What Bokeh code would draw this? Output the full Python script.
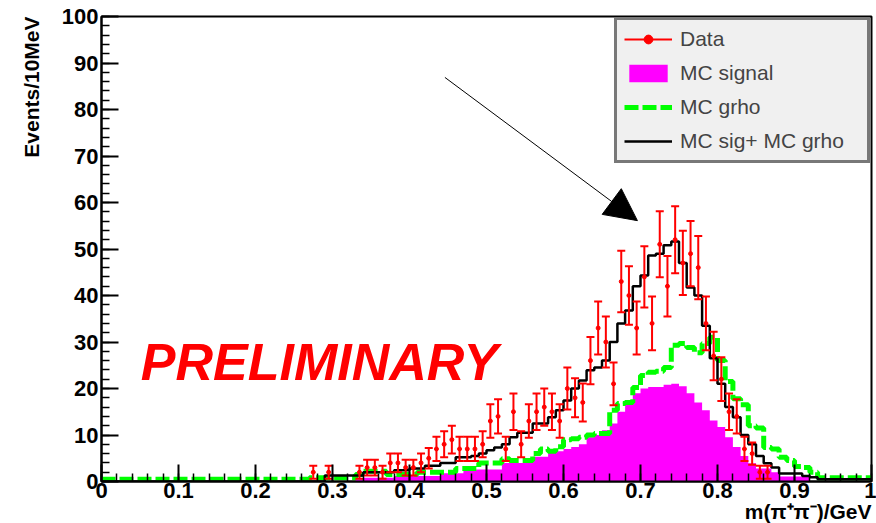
import math
import numpy as np
from bokeh.plotting import figure
from bokeh.models import (Label, Arrow, NormalHead, Legend, LegendItem, Title,
                          SingleIntervalTicker, NumeralTickFormatter)
from bokeh.embed import file_html
from bokeh.resources import INLINE

# ---------------- data ----------------
bin_width = 0.01
bin_low = np.round(np.arange(0.0, 1.0, bin_width), 2)   # 100 bins of 10 MeV

mc_signal = [
    0, 0, 0, 0, 0, 0, 0, 0, 0, 0,
    0, 0, 0, 0, 0, 0, 0, 0, 0, 0,
    0, 0, 0, 0, 0, 0, 0, 0, 0, 0,
    0, 0, 0, 0.5, 0.8, 0.8, 0.8, 0.8, 1.2, 1.2,
    1.2, 1.2, 1.2, 1.2, 1.8, 1.8, 1.8, 2.6, 2.6, 2.6,
    2.6, 2.6, 4.0, 4.0, 4.0, 4.0, 5.3, 5.3, 6.5, 6.5,
    7.0, 7.4, 8.0, 9.5, 10.0, 11.0, 12.5, 15.0, 17.0, 19.0,
    20.0, 20.3, 20.3, 20.8, 21.0, 20.5, 19.0, 17.0, 15.3, 13.1,
    11.7, 9.5, 7.4, 5.5, 3.9, 2.8, 2.8, 2.0, 1.1, 1.1,
    1.1, 1.1, 0, 0, 0, 0, 0, 0, 0, 0,
]

mc_grho = [
    0.5, 0.5, 0.5, 0.5, 0.5, 0.5, 0.5, 0.5, 0.5, 0.5,
    0.5, 0.5, 0.5, 0.5, 0.5, 0.5, 0.5, 0.5, 0.5, 0.5,
    0.5, 0.5, 0.5, 0.5, 0.5, 0.5, 0.5, 0.8, 0.8, 0.8,
    0.8, 0.8, 0.8, 1.5, 2.2, 2.2, 2.2, 1.5, 1.5, 1.5,
    1.5, 2.0, 2.0, 2.0, 2.0, 2.0, 2.8, 2.8, 2.8, 4.0,
    4.0, 4.0, 4.9, 4.5, 4.5, 4.5, 6.0, 7.0, 6.5, 7.5,
    9.0, 9.2, 9.5, 10.0, 10.3, 10.3, 15.3, 16.8, 17.0, 20.2,
    22.8, 23.5, 23.7, 24.5, 29.3, 29.7, 28.8, 27.7, 29.7, 31.0,
    26.0, 21.5, 17.8, 16.5, 12.0, 11.5, 7.3, 7.0, 5.2, 4.5,
    3.2, 3.0, 2.0, 0.8, 0.8, 0.8, 0.8, 0.8, 0.8, 0.8,
]

mc_sum = [
    0, 0, 0, 0, 0, 0, 0, 0, 0, 0,
    0, 0, 0, 0, 0, 0, 0, 0, 0, 0,
    0, 0, 0, 0, 0, 0, 0, 0, 0, 1.3,
    1.3, 1.3, 1.3, 1.3, 2.0, 2.0, 2.0, 2.0, 2.4, 2.4,
    2.8, 2.8, 3.4, 3.4, 4.0, 4.0, 5.2, 5.2, 5.5, 6.0,
    6.7, 7.3, 8.0, 9.5, 10.5, 10.5, 12.5, 12.5, 13.8, 15.3,
    17.4, 20.0, 21.7, 23.9, 24.5, 26.0, 30.0, 34.0, 36.8, 42.0,
    44.3, 48.6, 49.0, 50.8, 51.6, 47.0, 41.7, 40.0, 33.5, 26.5,
    21.0, 16.0, 13.8, 10.0, 8.0, 5.5, 3.9, 3.0, 1.7, 1.7,
    1.7, 1.2, 0.9, 0.5, 0.5, 0.5, 0.5, 0.5, 0.5, 0.5,
]

data_mass = [0.275, 0.295,
             0.335, 0.345, 0.355, 0.365, 0.375, 0.385, 0.395, 0.405, 0.415, 0.425,
             0.435, 0.445, 0.455, 0.465, 0.475, 0.485, 0.495, 0.505, 0.515, 0.525,
             0.535, 0.545, 0.555, 0.565, 0.575, 0.585, 0.595, 0.605, 0.615, 0.625,
             0.635, 0.645, 0.655, 0.665, 0.675, 0.685, 0.695, 0.705, 0.715, 0.725,
             0.735, 0.745, 0.755, 0.765, 0.775, 0.785, 0.795, 0.805, 0.815, 0.825,
             0.835, 0.845, 0.855, 0.865]
data_counts = [2, 2,
               2, 3, 3, 2, 4, 4, 3, 3, 4, 5,
               7, 8, 9, 7, 7, 7, 8, 13, 14, 7,
               15, 8, 13, 15, 16, 15, 13, 20, 18, 17,
               26, 33, 30, 21, 43, 40, 33, 44, 34, 51,
               42, 52, 47, 49, 46, 34, 27, 22, 15, 14,
               7, 6, 2, 2]
data_err = [1.4, 1.4,
            1.4, 1.7, 1.7, 1.4, 2.0, 2.0, 1.7, 1.7, 2.0, 2.2,
            2.6, 2.8, 3.0, 2.6, 2.6, 2.6, 2.8, 3.6, 3.7, 2.6,
            3.9, 2.8, 3.6, 3.9, 4.0, 3.9, 3.6, 4.5, 4.2, 4.1,
            5.1, 5.7, 5.5, 4.6, 6.6, 6.3, 5.7, 6.6, 5.8, 7.1,
            6.5, 7.2, 6.9, 7.0, 6.8, 5.8, 5.2, 4.7, 3.9, 3.7,
            2.6, 2.4, 1.4, 1.4]

legend_labels = ["Data", "MC signal", "MC grho", "MC sig+ MC grho"]
y_title = "Events/10MeV"
x_title = "m(π⁺π⁻)/GeV"
stamp = "PRELIMINARY"

# ---------------- derived step arrays ----------------
edges = list(bin_low) + [round(bin_low[-1] + bin_width, 2)]
def ext(v):
    return list(v) + [v[-1]]

err_lo = [c - e for c, e in zip(data_counts, data_err)]
err_hi = [c + e for c, e in zip(data_counts, data_err)]

FONT = "Liberation Sans"

p = figure(width=876, height=523, x_range=(0, 1), y_range=(0, 100),
           output_backend="svg", toolbar_location=None,
           min_border_left=101, min_border_right=5,
           min_border_top=16, min_border_bottom=42)
p.xgrid.visible = False
p.ygrid.visible = False
p.outline_line_color = "black"
p.outline_line_width = 2
p.background_fill_color = "white"
p.border_fill_color = "white"

# histograms
r_sig = p.varea_step(x=edges, y1=[0] * len(edges), y2=ext(mc_signal),
                     step_mode="after", fill_color="#ff00ff")
r_grho = p.step(x=edges, y=ext(mc_grho), mode="after",
                line_color="#00ff00", line_width=5, line_dash="14 4")
r_sum = p.step(x=edges, y=ext(mc_sum), mode="after",
               line_color="black", line_width=2.5)

# data with error bars
r_err = p.segment(x0=data_mass, y0=err_lo, x1=data_mass, y1=err_hi,
                  line_color="#ff0000", line_width=2)
p.scatter(x=data_mass + data_mass, y=err_lo + err_hi, marker="dash",
          size=8, line_color="#ff0000", line_width=2)
r_pt = p.scatter(x=data_mass, y=data_counts, marker="circle", size=4,
                 fill_color="#ff0000", line_color="#ff0000")

# axes
for ax in (p.xaxis[0], p.yaxis[0]):
    ax.axis_line_width = 2
    ax.major_tick_in = 17
    ax.major_tick_out = 0
    ax.minor_tick_in = 8
    ax.minor_tick_out = 0
    ax.major_tick_line_width = 2
    ax.minor_tick_line_width = 1.5
    ax.major_label_text_font = FONT
    ax.major_label_text_font_style = "bold"
    ax.major_label_text_font_size = "22px"
    ax.major_label_text_color = "black"
    ax.major_label_standoff = 3
p.xaxis.major_label_standoff = 1

p.xaxis.ticker = SingleIntervalTicker(interval=0.1, num_minor_ticks=5)
p.xaxis.formatter = NumeralTickFormatter(format="0.[0]")
p.yaxis.ticker = SingleIntervalTicker(interval=10, num_minor_ticks=5)

# axis titles, ROOT style (aligned to the end of the axis)
t_y = Title(text=y_title, align="right", text_font=FONT,
            text_font_style="bold", text_font_size="21px", text_color="black")
t_y.standoff = 32
p.add_layout(t_y, "left")
t_x = Title(text=x_title, align="right", text_font=FONT,
            text_font_style="bold", text_font_size="21px", text_color="black")
try:
    t_x.standoff = -6
except Exception:
    t_x.standoff = 0
p.add_layout(t_x, "below")

# annotations
p.add_layout(Label(x=0.051, y=25.8, text=stamp,
                   text_align="left", text_baseline="middle",
                   text_font=FONT, text_font_style="bold italic",
                   text_font_size="52px", text_color="#ff0000"))
p.add_layout(Arrow(x_start=0.446, y_start=86.9, x_end=0.696, y_end=56.1,
                   line_color="black", line_width=1,
                   end=NormalHead(size=32, fill_color="black",
                                  line_color="black")))

legend = Legend(items=[
    LegendItem(label=legend_labels[0], renderers=[r_err, r_pt]),
    LegendItem(label=legend_labels[1], renderers=[r_sig]),
    LegendItem(label=legend_labels[2], renderers=[r_grho]),
    LegendItem(label=legend_labels[3], renderers=[r_sum]),
], location="top_right")
legend.background_fill_color = "#f0f0f0"
legend.background_fill_alpha = 1
legend.border_line_color = "black"
legend.border_line_width = 3
legend.label_text_font = FONT
legend.label_text_font_size = "21px"
legend.glyph_width = 48
legend.glyph_height = 22
legend.label_height = 22
legend.label_width = 180
legend.spacing = 10
legend.padding = 7
legend.margin = 1
legend.label_standoff = 8
p.add_layout(legend)

open("out.html", "w").write(file_html(p, INLINE))
